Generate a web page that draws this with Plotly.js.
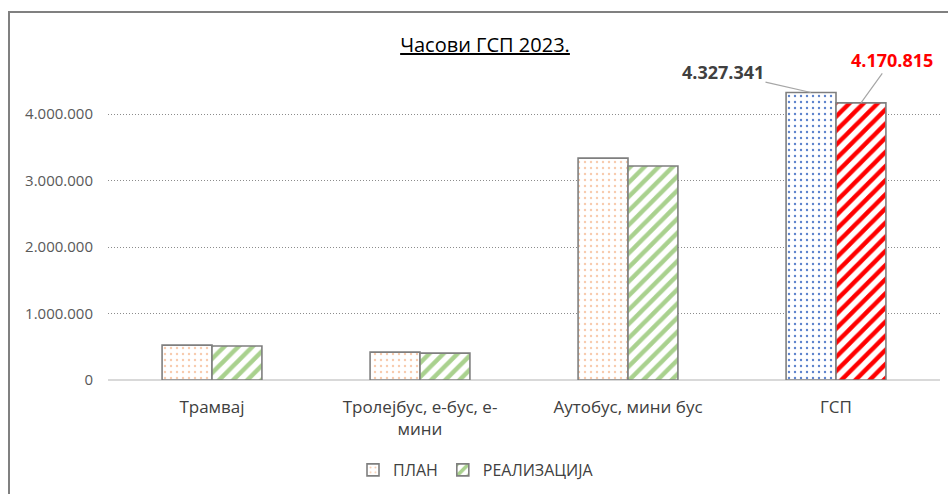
<!DOCTYPE html>
<html>
<head>
<meta charset="utf-8">
<script src="https://cdn.plot.ly/plotly-3.0.1.min.js"></script>
<style>
  html, body { margin: 0; padding: 0; background: #fff; }
  #wrap { position: relative; width: 948px; height: 494px; overflow: hidden; }
  #chart { width: 948px; height: 494px; }
  #frame { position: absolute; left: 8px; top: 11px; width: 1000px; height: 600px;
           border: 2px solid #808080; pointer-events: none; box-sizing: border-box; }
</style>
</head>
<body>
<div id="wrap">
  <div id="chart"></div>
  <div id="frame"></div>
</div>
<script>
const categories = ['Трамвај', 'Тролејбус, е-бус, е-<br>мини', 'Аутобус, мини бус', 'ГСП'];
const planValues = [525000, 420000, 3340000, 4327341];
const realValues = [512000, 405000, 3220000, 4170815];
const seriesNames = ['ПЛАН', 'РЕАЛИЗАЦИЈА'];
const yTicks = [0, 1000000, 2000000, 3000000, 4000000];
const titleText = 'Часови ГСП 2023.';

const FONT = '"Open Sans", "Noto Sans", sans-serif';

const planTrace = {
  type: 'bar', name: seriesNames[0], x: categories, y: planValues,
  marker: {
    color: '#ffffff',
    line: { color: '#7f7f7f', width: 1.6 },
    pattern: { shape: '.', fgcolor: ['#f8cbad', '#f8cbad', '#f8cbad', '#5b82cc'],
               bgcolor: '#ffffff', size: 6, solidity: 0.12, fillmode: 'replace' }
  },
  hoverinfo: 'x+y'
};
const realTrace = {
  type: 'bar', name: seriesNames[1], x: categories, y: realValues,
  marker: {
    color: '#ffffff',
    line: { color: '#7f7f7f', width: 1.6 },
    pattern: { shape: '/', fgcolor: ['#a9d18e', '#a9d18e', '#a9d18e', '#ff0000'],
               bgcolor: '#ffffff', size: 10, solidity: 0.45, fillmode: 'replace' }
  },
  hoverinfo: 'x+y'
};

const fmt = v => v.toString().replace(/\B(?=(\d{3})+(?!\d))/g, '.');

const layout = {
  width: 948, height: 494,
  paper_bgcolor: '#ffffff', plot_bgcolor: '#ffffff',
  separators: ',.',
  margin: { l: 108, r: 8, t: 81, b: 113 },
  barmode: 'group', bargap: 0.52, bargroupgap: 0,
  font: { family: FONT, color: '#595959', size: 14 },
  title: {
    text: '<u>' + titleText + '</u>',
    font: { family: FONT, size: 20, color: '#000000' },
    x: 485 / 948, xref: 'container', xanchor: 'center',
    y: 1 - 45 / 494, yref: 'container', yanchor: 'middle'
  },
  xaxis: {
    type: 'category', showline: false, ticks: '', showgrid: false,
    tickfont: { family: FONT, size: 17, color: '#404040' },
    ticklabelstandoff: 15
  },
  yaxis: {
    range: [0, 4500000], tickvals: yTicks, ticktext: yTicks.map(fmt),
    showgrid: true, gridcolor: '#8c8c8c', gridwidth: 1, griddash: '1px,2px',
    zeroline: true, zerolinecolor: '#d9d9d9', zerolinewidth: 1.5,
    showline: false, ticks: '', ticklabelstandoff: 14,
    tickfont: { family: FONT, size: 15, color: '#595959' }
  },
  showlegend: true,
  legend: {
    orientation: 'h', x: (476 - 108) / 832, xanchor: 'center',
    y: (381 - 470) / 300, yanchor: 'middle',
    font: { family: FONT, size: 16, color: '#404040' },
    itemwidth: 30, tracegroupgap: 0
  },
  annotations: [
    {
      x: categories[3], y: planValues[3], xref: 'x', yref: 'y', xshift: -25,
      text: '<b>' + fmt(planValues[3]) + '</b>',
      font: { family: FONT, size: 18, color: '#404040' },
      showarrow: true, arrowhead: 0, arrowwidth: 1.2, arrowcolor: '#a6a6a6',
      ax: -88, ay: -20, standoff: 0
    },
    {
      x: categories[3], y: realValues[3], xref: 'x', yref: 'y', xshift: 25,
      text: '<b>' + fmt(realValues[3]) + '</b>',
      font: { family: FONT, size: 18, color: '#ff0000' },
      showarrow: true, arrowhead: 0, arrowwidth: 1.2, arrowcolor: '#a6a6a6',
      ax: 31, ay: -43, standoff: 0
    }
  ]
};

Plotly.newPlot('chart', [planTrace, realTrace], layout, { displayModeBar: false, staticPlot: true });
</script>
</body>
</html>
